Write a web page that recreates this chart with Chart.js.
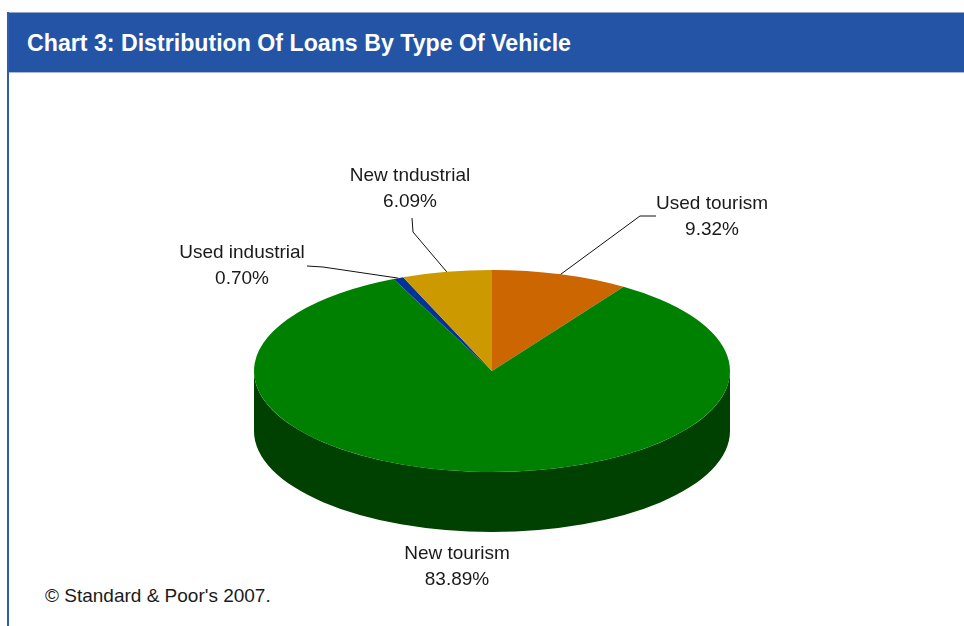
<!DOCTYPE html>
<html>
<head>
<meta charset="utf-8">
<title>Chart 3: Distribution Of Loans By Type Of Vehicle</title>
<script src="https://cdn.jsdelivr.net/npm/chart.js@4.4.0/dist/chart.umd.min.js"></script>
<style>
  html, body { margin: 0; padding: 0; background: #ffffff; }
  body { width: 964px; height: 626px; position: relative; overflow: hidden;
         font-family: "Liberation Sans", Arial, sans-serif; }
  #band { position: absolute; left: 7px; top: 12px; width: 957px; height: 61px;
          background: #2354a6; border-top: 1px solid #8fa6cf; border-bottom: 1px solid #a9bbdb;
          box-sizing: border-box; }
  #edge { position: absolute; left: 7px; top: 12px; width: 2px; height: 614px; background: #2f5cae; }
  #title { position: absolute; left: 27px; top: 31px; line-height: 24px; font-size: 24px;
           font-weight: bold; color: #ffffff; white-space: nowrap; transform-origin: 0 0; }
  #source { position: absolute; left: 45px; top: 586px; line-height: 19px; font-size: 19px;
            color: #1a1a1a; white-space: nowrap; }
  #chart { position: absolute; left: 0; top: 0; }
</style>
</head>
<body>
<div id="band"></div>
<div id="edge"></div>
<span id="title">Chart 3: Distribution Of Loans By Type Of Vehicle</span>
<span id="source">© Standard &amp; Poor's 2007.</span>
<canvas id="chart" width="964" height="626"></canvas>
<script>
// Loan shares by vehicle type (percent), clockwise from 12 o'clock
const categories = ['Used tourism', 'New tourism', 'Used industrial', 'New tndustrial'];
const shares = [9.32, 83.89, 0.70, 6.09];
const sliceColors = ['#cc6600', '#008000', '#003399', '#cc9900'];

// Callout layout: elbow / line end of each leader, and the label baseline
const calloutLayout = [
  { elbow: [640, 216], end: [656, 216], text: [712, 209] },
  { text: [457, 559] },
  { elbow: [323, 267], end: [307, 266], text: [242, 258] },
  { elbow: [413, 232], end: [412, 218], text: [410, 181] }
];

const TILT = 101 / 238;   // vertical squash of the pie disc
const DEPTH = 60;         // thickness of the pie, px
const LINE_GAP = 26;      // distance between name and value lines

// fit the heading to its band width
(function () {
  const t = document.getElementById('title');
  const w = t.getBoundingClientRect().width;
  t.style.transform = 'scaleX(' + (544 / w) + ')';
})();

function darken(hex, f) {
  const n = parseInt(hex.slice(1), 16);
  const r = Math.round(((n >> 16) & 255) * f);
  const g = Math.round(((n >> 8) & 255) * f);
  const b = Math.round((n & 255) * f);
  return 'rgb(' + r + ',' + g + ',' + b + ')';
}

// Draws the pie as a tilted disc: side wall first, then the squashed top face
const tiltedPie = {
  id: 'tiltedPie',
  beforeDatasetsDraw(chart) {
    const ctx = chart.ctx;
    const arcs = chart.getDatasetMeta(0).data;
    const cx = arcs[0].x, cy = arcs[0].y, R = arcs[0].outerRadius, r = R * TILT;
    const TWO_PI = Math.PI * 2;
    arcs.forEach((arc, i) => {
      for (let shift = -TWO_PI; shift <= TWO_PI; shift += TWO_PI) {
        const a0 = Math.max(arc.startAngle + shift, 0);
        const a1 = Math.min(arc.endAngle + shift, Math.PI);
        if (a1 <= a0) continue;
        ctx.save();
        ctx.beginPath();
        ctx.ellipse(cx, cy, R, r, 0, a0, a1, false);
        ctx.lineTo(cx + R * Math.cos(a1), cy + DEPTH + r * Math.sin(a1));
        ctx.ellipse(cx, cy + DEPTH, R, r, 0, a1, a0, true);
        ctx.closePath();
        ctx.fillStyle = darken(sliceColors[i], 0.5);
        ctx.fill();
        ctx.restore();
      }
    });
    ctx.save();
    ctx.translate(cx, cy);
    ctx.scale(1, TILT);
    ctx.translate(-cx, -cy);
  },
  afterDatasetsDraw(chart) {
    chart.ctx.restore();
  },
  afterDraw(chart) {
    const ctx = chart.ctx;
    const arcs = chart.getDatasetMeta(0).data;
    const cx = arcs[0].x, cy = arcs[0].y, R = arcs[0].outerRadius, r = R * TILT;
    ctx.save();
    ctx.font = '19px "Liberation Sans", Arial, sans-serif';
    ctx.textAlign = 'center';
    ctx.textBaseline = 'alphabetic';
    arcs.forEach((arc, i) => {
      const c = calloutLayout[i];
      if (c.elbow) {
        const m = (arc.startAngle + arc.endAngle) / 2;
        ctx.beginPath();
        ctx.moveTo(cx + R * Math.cos(m), cy + r * Math.sin(m));
        ctx.lineTo(c.elbow[0], c.elbow[1]);
        ctx.lineTo(c.end[0], c.end[1]);
        ctx.strokeStyle = '#111111';
        ctx.lineWidth = 1;
        ctx.stroke();
      }
      ctx.fillStyle = '#1a1a1a';
      ctx.fillText(categories[i], c.text[0], c.text[1]);
      ctx.fillText(shares[i].toFixed(2) + '%', c.text[0], c.text[1] + LINE_GAP);
    });
    ctx.restore();
  }
};

new Chart(document.getElementById('chart'), {
  type: 'pie',
  data: {
    labels: categories,
    datasets: [{
      data: shares,
      backgroundColor: sliceColors,
      borderWidth: 0,
      clip: false
    }]
  },
  options: {
    responsive: false,
    animation: false,
    events: [],
    layout: { padding: { left: 254, right: 234, top: 133, bottom: 17 } },
    plugins: { legend: { display: false }, tooltip: { enabled: false }, title: { display: false } }
  },
  plugins: [tiltedPie]
});
</script>
</body>
</html>
